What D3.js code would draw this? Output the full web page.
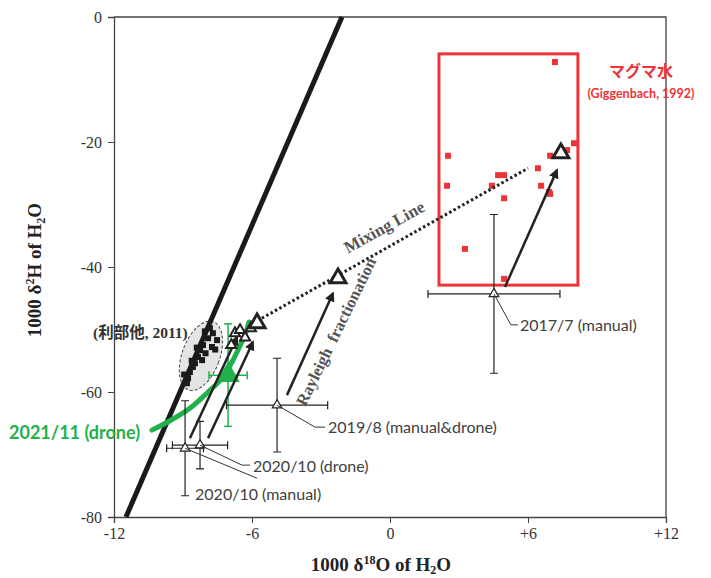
<!DOCTYPE html>
<html>
<head>
<meta charset="utf-8">
<script src="https://cdn.jsdelivr.net/npm/d3@7"></script>
<style>
  body { margin: 0; background: #fff; }
  svg { display: block; }
  .lbl { font-family: Lato, "Open Sans", sans-serif; font-size: 16px; fill: #404040; }
</style>
</head>
<body>
<svg id="chart" width="711" height="578"></svg>
<script>
const width = 711;
const height = 578;

// axis ticks
const xTicks = [-12, -6, 0, 6, 12];
const xTickLabels = ["-12", "-6", "0", "+6", "+12"];
const yTicks = [-80, -60, -40, -20, 0];
const yTickLabels = ["-80", "-60", "-40", "-20", "0"];

// meteoric water line, end points (d18O, dD)
const meteoricLine = [[-11.48, -80], [-2.09, 0]];

// magmatic water (Giggenbach, 1992)
const magmaBox = [2.13, -42.9, 8.17, -5.9];
const magmaPts = [
  [7.17, -7.2], [2.52, -22.2], [2.48, -27.0], [4.70, -25.3], [4.96, -25.3],
  [4.43, -27.0], [4.96, -29.0], [3.26, -37.1], [4.96, -41.9], [6.43, -24.2],
  [6.57, -27.0], [6.91, -28.0], [6.96, -28.3], [6.96, -22.2], [7.70, -21.3],
  [8.0, -20.2]
];

// 利部他, 2011
const toribePts = [
  [-7.83, -49.8], [-7.70, -50.6], [-7.91, -51.4], [-8.13, -52.5], [-8.26, -53.3],
  [-8.35, -54.4], [-8.48, -55.4], [-8.57, -56.0], [-8.70, -56.8], [-8.78, -57.8],
  [-8.83, -58.6], [-7.52, -51.7], [-7.74, -52.8], [-8.02, -53.8], [-8.17, -54.9],
  [-8.40, -52.9], [-8.62, -55.0], [-7.60, -53.2], [-8.95, -57.2], [-8.05, -50.3]
];
const toribeArea = { cx: -8.22, cy: -54.2, rx: 0.82, ry: 5.8 };

// 2021/11 drone trace and its mean
const drone2021 = [
  [-10.35, -66.1], [-9.57, -64.6], [-8.70, -62.6], [-7.91, -60.0], [-7.30, -57.8],
  [-6.87, -55.2], [-6.52, -52.6], [-6.26, -50.4], [-6.13, -48.8]
];
const drone2021Mean = { x: -7.04, y: -57.3, ex: 0.83, ey: 8.2 };

// samples with error bars
const samples = [
  { name: "2017/7 (manual)", x: 4.52, y: -44.3, ex: 2.87, ey: 12.7 },
  { name: "2019/8 (manual&drone)", x: -4.91, y: -62.1, ex: 2.2, ey: 7.5 },
  { name: "2020/10 (drone)", x: -8.26, y: -68.5, ex: 1.2, ey: 3.8 },
  { name: "2020/10 (manual)", x: -8.91, y: -69.0, ex: 0.8, ey: 7.6 }
];

// end members on the mixing line and small triangles
const mixTriangles = [[-5.78, -49.0], [-2.26, -41.8], [7.43, -21.8]];
const smallTriangles = [[-6.74, -50.6], [-6.52, -50.1], [-6.05, -49.8], [-6.9, -52.5], [-6.3, -51.3]];
const mixingLine = [[-5.57, -48.2], [6.0, -24.2]];
const rayleighArrows = [
  [[-4.48, -60.5], [-2.48, -44.2]],
  [[5.0, -43.2], [7.26, -24.5]],
  [[-8.70, -67.4], [-6.65, -51.2]],
  [[-7.91, -67.4], [-5.96, -52.0]]
];

const svg = d3.select("#chart");
const x = d3.scaleLinear().domain([-12, 12]).range([114, 666]);
const y = d3.scaleLinear().domain([-80, 0]).range([517, 17]);

const red = "#ee3338";
const green = "#22b04b";

// arrow marker
svg.append("defs").append("marker")
  .attr("id", "head")
  .attr("viewBox", "0 0 10 10")
  .attr("refX", 8).attr("refY", 5)
  .attr("markerWidth", 4).attr("markerHeight", 4)
  .attr("orient", "auto")
  .append("path").attr("d", "M0,0L10,5L0,10z").attr("fill", "#222");

function styleAxis(g) {
  g.attr("font-family", "'Liberation Serif', serif").attr("font-size", 16);
  g.select(".domain").attr("stroke", "#444").attr("stroke-width", 1.3);
  g.selectAll(".tick line").attr("stroke", "#444");
  g.selectAll(".tick text").attr("fill", "#333");
}

// axes
svg.append("g")
  .attr("transform", `translate(0,${y(-80)})`)
  .call(d3.axisBottom(x).tickValues(xTicks).tickSize(6).tickPadding(5)
    .tickFormat((d, i) => xTickLabels[i]))
  .call(styleAxis);

svg.append("g")
  .attr("transform", `translate(${x(-12)},0)`)
  .call(d3.axisLeft(y).tickValues(yTicks).tickSize(6).tickPadding(6)
    .tickFormat((d, i) => yTickLabels[i]))
  .call(styleAxis);

// top and right frame
svg.append("path")
  .attr("d", `M${x(-12)},${y(0)}H${x(12)}V${y(-80)}`)
  .attr("fill", "none").attr("stroke", "#444").attr("stroke-width", 1.3);

// magmatic water box and points
svg.append("rect")
  .attr("x", x(magmaBox[0])).attr("y", y(magmaBox[3]))
  .attr("width", x(magmaBox[2]) - x(magmaBox[0]))
  .attr("height", y(magmaBox[1]) - y(magmaBox[3]))
  .attr("fill", "none").attr("stroke", red).attr("stroke-width", 3);

svg.selectAll("rect.magma")
  .data(magmaPts)
  .join("rect")
  .attr("class", "magma")
  .attr("x", d => x(d[0]) - 3).attr("y", d => y(d[1]) - 3)
  .attr("width", 6).attr("height", 6)
  .attr("fill", red);

// ellipse of previous study
svg.append("ellipse")
  .attr("cx", 0).attr("cy", 0)
  .attr("rx", x(toribeArea.cx + toribeArea.rx) - x(toribeArea.cx))
  .attr("ry", y(toribeArea.cy - toribeArea.ry) - y(toribeArea.cy))
  .attr("transform", `translate(${x(toribeArea.cx)},${y(toribeArea.cy)}) rotate(20)`)
  .attr("fill", "#e4e4e4").attr("stroke", "#444").attr("stroke-width", 1)
  .attr("stroke-dasharray", "3,2");

// meteoric water line
svg.append("line")
  .attr("x1", x(meteoricLine[0][0])).attr("y1", y(meteoricLine[0][1]))
  .attr("x2", x(meteoricLine[1][0])).attr("y2", y(meteoricLine[1][1]))
  .attr("stroke", "#1a1a1a").attr("stroke-width", 5);

svg.selectAll("rect.toribe")
  .data(toribePts)
  .join("rect")
  .attr("class", "toribe")
  .attr("x", d => x(d[0]) - 3).attr("y", d => y(d[1]) - 3)
  .attr("width", 6).attr("height", 6)
  .attr("fill", "#1a1a1a");

// green drone trace
svg.append("path")
  .datum(drone2021)
  .attr("d", d3.line().x(d => x(d[0])).y(d => y(d[1])).curve(d3.curveCatmullRom))
  .attr("fill", "none").attr("stroke", green).attr("stroke-width", 5)
  .attr("stroke-linecap", "round");

// green mean with error bars
const gm = svg.append("g").attr("stroke", green).attr("stroke-width", 1.5);
gm.append("line").attr("x1", x(drone2021Mean.x - drone2021Mean.ex)).attr("x2", x(drone2021Mean.x + drone2021Mean.ex))
  .attr("y1", y(drone2021Mean.y)).attr("y2", y(drone2021Mean.y));
gm.append("line").attr("x1", x(drone2021Mean.x)).attr("x2", x(drone2021Mean.x))
  .attr("y1", y(drone2021Mean.y - drone2021Mean.ey)).attr("y2", y(drone2021Mean.y + drone2021Mean.ey));
for (const v of [drone2021Mean.x - drone2021Mean.ex, drone2021Mean.x + drone2021Mean.ex]) {
  gm.append("line").attr("x1", x(v)).attr("x2", x(v))
    .attr("y1", y(drone2021Mean.y) - 4).attr("y2", y(drone2021Mean.y) + 4);
}
for (const v of [drone2021Mean.y - drone2021Mean.ey, drone2021Mean.y + drone2021Mean.ey]) {
  gm.append("line").attr("x1", x(drone2021Mean.x) - 4).attr("x2", x(drone2021Mean.x) + 4)
    .attr("y1", y(v)).attr("y2", y(v));
}
svg.append("path")
  .attr("d", d3.symbol(d3.symbolTriangle, 240)())
  .attr("transform", `translate(${x(drone2021Mean.x)},${y(drone2021Mean.y)})`)
  .attr("fill", green);

// Rayleigh arrows
svg.selectAll("line.arrow")
  .data(rayleighArrows)
  .join("line")
  .attr("class", "arrow")
  .attr("x1", d => x(d[0][0])).attr("y1", d => y(d[0][1]))
  .attr("x2", d => x(d[1][0])).attr("y2", d => y(d[1][1]))
  .attr("stroke", "#222").attr("stroke-width", 2.5)
  .attr("marker-end", "url(#head)");

// mixing line
svg.append("line")
  .attr("x1", x(mixingLine[0][0])).attr("y1", y(mixingLine[0][1]))
  .attr("x2", x(mixingLine[1][0])).attr("y2", y(mixingLine[1][1]))
  .attr("stroke", "#222").attr("stroke-width", 3)
  .attr("stroke-dasharray", "2.5,2.5");

// sample error bars
const cap = 4;
const eb = svg.selectAll("g.sample").data(samples).join("g")
  .attr("class", "sample").attr("stroke", "#222").attr("stroke-width", 1.2);
eb.append("line")
  .attr("x1", d => x(d.x - d.ex)).attr("x2", d => x(d.x + d.ex))
  .attr("y1", d => y(d.y)).attr("y2", d => y(d.y));
eb.append("line")
  .attr("x1", d => x(d.x)).attr("x2", d => x(d.x))
  .attr("y1", d => y(d.y - d.ey)).attr("y2", d => y(d.y + d.ey));
eb.append("path")
  .attr("fill", "none")
  .attr("d", d => [
    `M${x(d.x - d.ex)},${y(d.y) - cap}V${y(d.y) + cap}`,
    `M${x(d.x + d.ex)},${y(d.y) - cap}V${y(d.y) + cap}`,
    `M${x(d.x) - cap},${y(d.y - d.ey)}H${x(d.x) + cap}`,
    `M${x(d.x) - cap},${y(d.y + d.ey)}H${x(d.x) + cap}`
  ].join(""));
eb.append("path")
  .attr("d", d3.symbol(d3.symbolTriangle, 40)())
  .attr("transform", d => `translate(${x(d.x)},${y(d.y)})`)
  .attr("fill", "#fff").attr("stroke-width", 1.2);

// small triangles near cluster
svg.selectAll("path.small")
  .data(smallTriangles)
  .join("path")
  .attr("class", "small")
  .attr("d", d3.symbol(d3.symbolTriangle, 45)())
  .attr("transform", d => `translate(${x(d[0])},${y(d[1])})`)
  .attr("fill", "#fff").attr("stroke", "#222").attr("stroke-width", 2);

// bold triangles on mixing line
svg.selectAll("path.mix")
  .data(mixTriangles)
  .join("path")
  .attr("class", "mix")
  .attr("d", d3.symbol(d3.symbolTriangle, 110)())
  .attr("transform", d => `translate(${x(d[0])},${y(d[1])})`)
  .attr("fill", "#fff").attr("stroke", "#222").attr("stroke-width", 3);

// sample labels with leaders
const leaders = [
  { pts: [[0, 0], [17, 31], [24, 31]], tx: 26, ty: 37 },
  { pts: [[0, 0], [38, 22], [48, 22]], tx: 51, ty: 28 },
  { pts: [[0, 0], [42, 20], [50, 20]], tx: 53, ty: 27 },
  { pts: [[0, 0], [72, 30]], tx: 10, ty: 52 }
];
samples.forEach((s, i) => {
  const L = leaders[i];
  const px = x(s.x), py = y(s.y);
  svg.append("polyline")
    .attr("points", L.pts.map(p => `${px + p[0]},${py + p[1]}`).join(" "))
    .attr("fill", "none").attr("stroke", "#333").attr("stroke-width", 1);
  svg.append("text").attr("class", "lbl")
    .attr("x", px + L.tx).attr("y", py + L.ty)
    .text(s.name);
});

// annotations
svg.append("text")
  .attr("x", 641).attr("y", 77)
  .attr("text-anchor", "middle")
  .attr("font-family", "'Noto Sans CJK JP', sans-serif")
  .attr("font-weight", "bold").attr("font-size", 16)
  .attr("fill", red)
  .text("マグマ水");
svg.append("text")
  .attr("x", 641).attr("y", 98)
  .attr("text-anchor", "middle")
  .attr("font-family", "Lato, sans-serif")
  .attr("font-weight", "bold").attr("font-size", 12.5)
  .attr("fill", red)
  .text("(Giggenbach, 1992)");

svg.append("text")
  .attr("x", 93).attr("y", 338)
  .attr("font-family", "'Liberation Serif', 'Noto Sans CJK JP', serif")
  .attr("font-weight", "bold").attr("font-size", 15.5)
  .attr("fill", "#333")
  .text("(利部他, 2011)");

svg.append("text")
  .attr("x", 9).attr("y", 439)
  .attr("font-family", "Lato, sans-serif")
  .attr("font-weight", "bold").attr("font-size", 18)
  .attr("fill", green)
  .text("2021/11 (drone)");

svg.append("text")
  .attr("transform", "translate(387,232) rotate(-29)")
  .attr("text-anchor", "middle")
  .attr("font-family", "'Liberation Serif', serif")
  .attr("font-weight", "bold").attr("font-size", 17)
  .attr("fill", "#555")
  .text("Mixing Line");

svg.append("text")
  .attr("transform", "translate(341,334) rotate(-64)")
  .attr("text-anchor", "middle")
  .attr("font-family", "'Liberation Serif', serif")
  .attr("font-weight", "bold").attr("font-size", 16.5)
  .attr("fill", "#555")
  .attr("xml:space", "preserve")
  .text("Rayleigh  fractionation");

// axis titles
const xt = svg.append("text")
  .attr("x", 381).attr("y", 571)
  .attr("text-anchor", "middle")
  .attr("font-family", "'Liberation Serif', serif")
  .attr("font-weight", "bold").attr("font-size", 19)
  .attr("fill", "#222");
xt.append("tspan").text("1000 δ");
xt.append("tspan").attr("dy", -7).attr("font-size", 12).text("18");
xt.append("tspan").attr("dy", 7).text("O of H");
xt.append("tspan").attr("dy", 3).attr("font-size", 12).text("2");
xt.append("tspan").attr("dy", -3).text("O");

const yt = svg.append("text")
  .attr("transform", "translate(41,270) rotate(-90)")
  .attr("text-anchor", "middle")
  .attr("font-family", "'Liberation Serif', serif")
  .attr("font-weight", "bold").attr("font-size", 19)
  .attr("fill", "#222");
yt.append("tspan").text("1000 δ");
yt.append("tspan").attr("dy", -7).attr("font-size", 12).text("2");
yt.append("tspan").attr("dy", 7).text("H of H");
yt.append("tspan").attr("dy", 4).attr("font-size", 12).text("2");
yt.append("tspan").attr("dy", -4).text("O");
</script>
</body>
</html>
